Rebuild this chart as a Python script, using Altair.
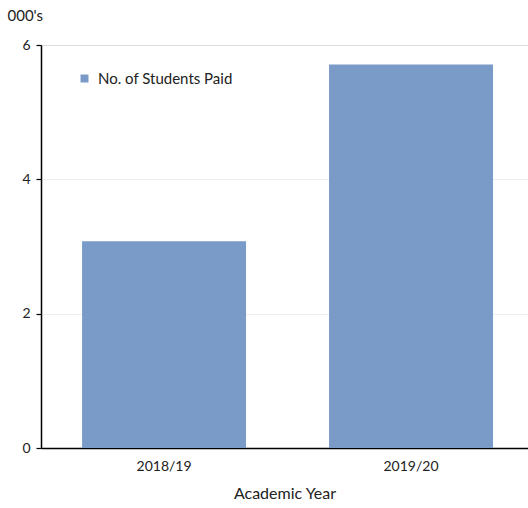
import altair as alt
import pandas as pd

years = ["2018/19", "2019/20"]
students_paid = [3.08, 5.71]
series_name = "No. of Students Paid"

df = pd.DataFrame({"year": years, "value": students_paid, "series": [series_name] * len(years)})

FONT = "Lato"
BAR = "#7a9bc8"

chart = (
    alt.Chart(df)
    .mark_bar(color=BAR)
    .encode(
        x=alt.X(
            "year:N",
            title="Academic Year",
            sort=years,
            scale=alt.Scale(paddingInner=0.336, paddingOuter=0.154, align=0.54),
            axis=alt.Axis(
                labelAngle=0,
                ticks=False,
                domainColor="#000000",
                domainWidth=1.5,
                labelFont=FONT,
                labelFontSize=14,
                labelColor="#222222",
                labelPadding=11,
                titleFont=FONT,
                titleFontSize=16,
                titleFontWeight="normal",
                titleColor="#222222",
                titlePadding=12,
                grid=False,
            ),
        ),
        y=alt.Y(
            "value:Q",
            scale=alt.Scale(domain=[0, 6], nice=False),
            axis=alt.Axis(
                values=[0, 2, 4, 6],
                title="000's",
                titleAngle=0,
                titleAlign="left",
                titleBaseline="alphabetic",
                titleX=-34,
                titleY=-25,
                titleFont=FONT,
                titleFontSize=15,
                titleFontWeight="normal",
                titleColor="#222222",
                labelFont=FONT,
                labelFontSize=14,
                labelColor="#222222",
                labelPadding=6,
                domainColor="#000000",
                domainWidth=1.5,
                tickColor="#000000",
                tickSize=5,
                tickWidth=1.2,
                gridColor="#dcdcdc",
                gridDash=[1, 1],
                gridWidth=1,
            ),
        ),
        fill=alt.Fill(
            "series:N",
            scale=alt.Scale(domain=[series_name], range=[BAR]),
            legend=alt.Legend(
                title=None,
                orient="none",
                legendX=36,
                legendY=26,
                symbolType="square",
                symbolSize=64,
                symbolStrokeWidth=0,
                labelFont=FONT,
                labelFontSize=15,
                labelColor="#222222",
                labelOffset=6,
            ),
        ),
    )
    .properties(
        width=487,
        height=403,
        padding={"left": 41, "top": 45, "right": 0, "bottom": 60},
        autosize=alt.AutoSizeParams(type="none"),
    )
    .configure_view(stroke=None)
    .configure(background="#ffffff")
)

chart.save("out.html", embed_options={"renderer": "svg", "actions": False})
